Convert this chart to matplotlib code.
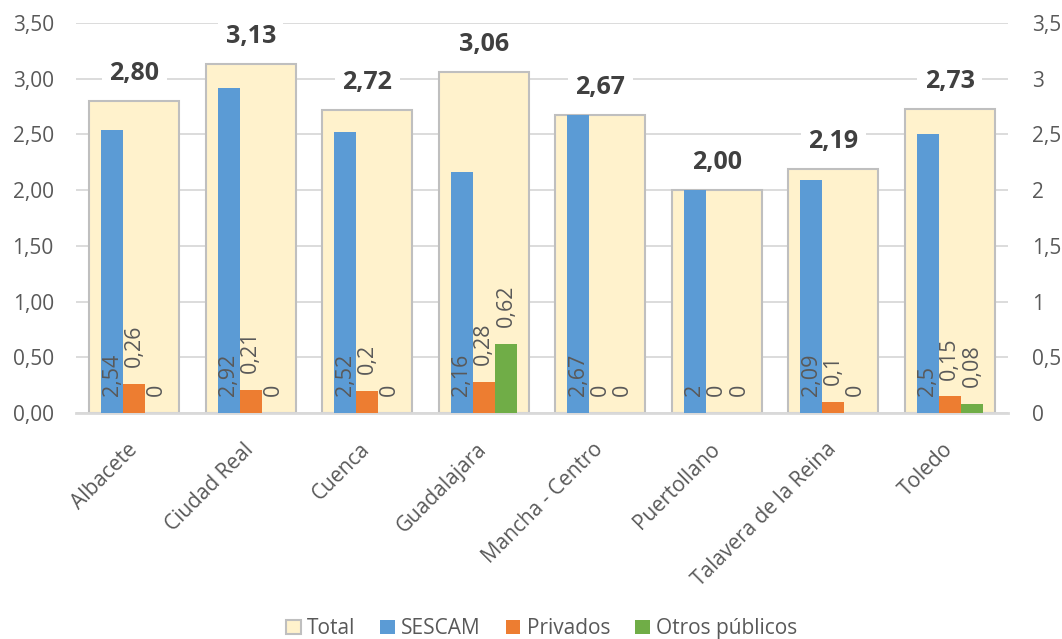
import matplotlib.pyplot as plt
import numpy as np
from matplotlib.patches import Patch

plt.rcParams['font.family'] = ['Open Sans', 'DejaVu Sans']

categories = ["Albacete", "Ciudad Real", "Cuenca", "Guadalajara",
              "Mancha - Centro", "Puertollano", "Talavera de la Reina", "Toledo"]
total = [2.80, 3.13, 2.72, 3.06, 2.67, 2.00, 2.19, 2.73]
sescam = [2.54, 2.92, 2.52, 2.16, 2.67, 2, 2.09, 2.5]
privados = [0.26, 0.21, 0.2, 0.28, 0, 0, 0.1, 0.15]
otros = [0, 0, 0, 0.62, 0, 0, 0, 0.08]

TXT = '#595959'
GRID = '#D9D9D9'


def fmt(v):
    s = ('%.2f' % v).rstrip('0').rstrip('.')
    return s.replace('.', ',')


fig = plt.figure(figsize=(10.62, 6.39), dpi=100)
ax = fig.add_axes([76 / 1062, 1 - 413 / 639, 932 / 1062, 390 / 639])
x = np.arange(len(categories))

ax.bar(x, total, width=0.77, color='#FFF2CC', edgecolor='#BFBFBF', linewidth=1.5, zorder=2)
w = 0.19
ax.bar(x - w, sescam, width=w, color='#5B9BD5', zorder=3)
ax.bar(x, privados, width=w, color='#ED7D31', zorder=3)
ax.bar(x + w, otros, width=w, color='#70AD47', zorder=3)

# etiquetas de valor
for i in range(len(categories)):
    ax.annotate(fmt(sescam[i]), (x[i] - w, 0), xytext=(0, 12), textcoords='offset points',
                rotation=90, ha='center', va='bottom', fontsize=15.5, color=TXT, zorder=5)
    ax.annotate(fmt(privados[i]), (x[i], privados[i]), xytext=(0, 12), textcoords='offset points',
                rotation=90, ha='center', va='bottom', fontsize=15.5, color=TXT, zorder=5)
    ax.annotate(fmt(otros[i]), (x[i] + w, otros[i]), xytext=(0, 12), textcoords='offset points',
                rotation=90, ha='center', va='bottom', fontsize=15.5, color=TXT, zorder=5)
    ax.annotate(('%.2f' % total[i]).replace('.', ','),
                (x[i], total[i]), xytext=(0, 20), textcoords='offset points',
                ha='center', va='center', fontsize=18, fontweight='bold', color='#404040',
                bbox=dict(boxstyle='square,pad=0.3', fc='white', ec='none'), zorder=6)

ax.set_xlim(-0.5, len(categories) - 0.5)
ax.set_ylim(0, 3.5)
yt = np.arange(0, 3.51, 0.5)
ax.set_yticks(yt)
ax.set_yticklabels([('%.2f' % v).replace('.', ',') for v in yt])
ax.set_xticks(x)
ax.set_xticklabels(categories, rotation=45, ha='right', va='center', rotation_mode='anchor')
ax.tick_params(axis='x', length=0, pad=24, labelsize=15, labelcolor=TXT)
ax.tick_params(axis='y', length=0, pad=16, labelsize=15, labelcolor=TXT)
ax.grid(axis='y', color=GRID, linewidth=1.3, zorder=0)
ax.set_axisbelow(True)
for s in ['top', 'right', 'left']:
    ax.spines[s].set_visible(False)
ax.spines['bottom'].set_color(GRID)
ax.spines['bottom'].set_linewidth(2)

ax2 = ax.twinx()
ax2.set_ylim(0, 3.5)
ax2.set_yticks(yt)
ax2.set_yticklabels([fmt(v) for v in yt])
ax2.tick_params(axis='y', length=0, pad=17, labelsize=15, labelcolor=TXT)
for s in ax2.spines.values():
    s.set_visible(False)

handles = [Patch(facecolor='#FFF2CC', edgecolor='#BFBFBF', linewidth=1.5, label='Total'),
           Patch(facecolor='#5B9BD5', label='SESCAM'),
           Patch(facecolor='#ED7D31', label='Privados'),
           Patch(facecolor='#70AD47', label='Otros públicos')]
leg = fig.legend(handles=handles, loc='lower center', bbox_to_anchor=(0.51, -0.03), ncol=4,
                 frameon=False, fontsize=15, handlelength=0.7, handleheight=0.7,
                 handletextpad=0.3, columnspacing=1.2)
for t in leg.get_texts():
    t.set_color(TXT)

fig.savefig('out.png', dpi=100)
